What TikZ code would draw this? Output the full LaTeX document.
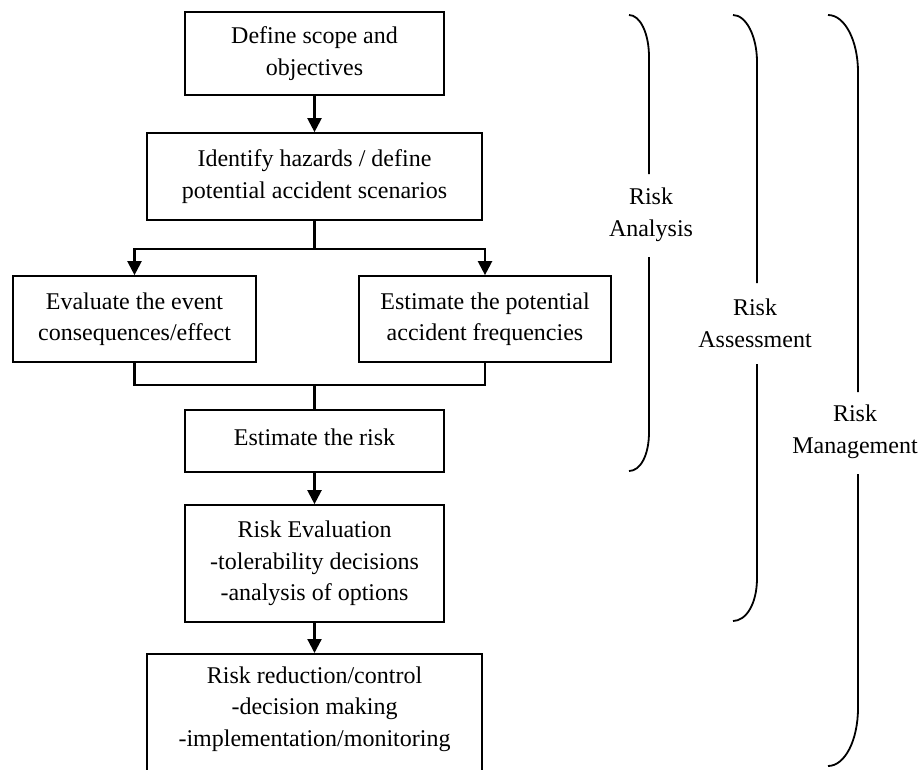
\documentclass[tikz,border=0pt]{standalone}
\usepackage{fontspec}
\setmainfont{Liberation Serif}
\usetikzlibrary{arrows.meta}
\begin{document}
\begin{tikzpicture}[x=1pt,y=-1pt,
  box/.style={draw, line width=1.7pt, inner sep=0pt, align=center,
    font=\fontsize{24}{31.5}\selectfont},
  txt/.style={inner sep=0pt, align=center, font=\fontsize{24}{31.5}\selectfont},
  lbl/.style={inner sep=0pt, align=center, font=\fontsize{24}{32}\selectfont},
  conn/.style={line width=2.2pt},
  arr/.style={conn, -{Triangle[width=14pt,length=14pt]}},
  brace/.style={line width=1.8pt}]
\clip (0,0) rectangle (923,769);
% boxes
\node[box, minimum width=259pt, minimum height=83pt] (b1) at (314.5,53.5) {Define scope and\\objectives};
\node[box, minimum width=335pt, minimum height=87pt] (b2) at (314.5,176.5) {Identify hazards / define\\potential accident scenarios};
\node[box, minimum width=243pt, minimum height=86pt] (b3) at (134.5,319) {Evaluate the event\\consequences/effect};
\node[box, minimum width=252pt, minimum height=86pt] (b4) at (485,319) {Estimate the potential\\accident frequencies};
\node[box, minimum width=259pt, minimum height=62pt] (b5) at (314.5,441) {};
\node[txt] (b5t) at (314.5,437) {Estimate the risk};
\node[box, minimum width=259pt, minimum height=117pt] (b6) at (314.5,563.5) {Risk Evaluation\\-tolerability decisions\\-analysis of options};
\node[box, minimum width=335pt, minimum height=150pt, anchor=north] (b7) at (314.5,653) {};
\node[txt] (b7t) at (314.5,709) {Risk reduction/control\\-decision making\\-implementation/monitoring};
% connectors
\coordinate (split) at (314.5,249);
\coordinate (join) at (314.5,385);
\draw[arr] (b1.south) -- (b2.north);
\draw[conn] (b2.south) -- (split);
\draw[arr] (split) -| (b3.north);
\draw[arr] (split) -| (b4.north);
\draw[conn] (b3.south) |- (join) -| (b4.south);
\draw[conn] (join) -- (b5.north);
\draw[arr] (b5.south) -- (b6.north);
\draw[arr] (b6.south) -- (b7.north);
% brace labels
\node[lbl] (la) at (651,215) {Risk\\Analysis};
\node[lbl] (ls) at (755,323) {Risk\\Assessment};
\node[lbl] (lm) at (855,432) {Risk\\Management};
% braces
\draw[brace] (629,15) .. controls (640,15) and (649,33) .. (649,57) -- (649,174);
\draw[brace] (649,257) -- (649,432) .. controls (649,456) and (640,471) .. (629,471);
\draw[brace] (733,15) .. controls (746,15) and (757,36) .. (757,62) -- (757,283);
\draw[brace] (757,364) -- (757,578) .. controls (757,604) and (746,621) .. (733,621);
\draw[brace] (828,15) .. controls (845,15) and (858,41) .. (858,72) -- (858,392);
\draw[brace] (858,474) -- (858,708) .. controls (858,740) and (845,766) .. (828,766);
\end{tikzpicture}
\end{document}
